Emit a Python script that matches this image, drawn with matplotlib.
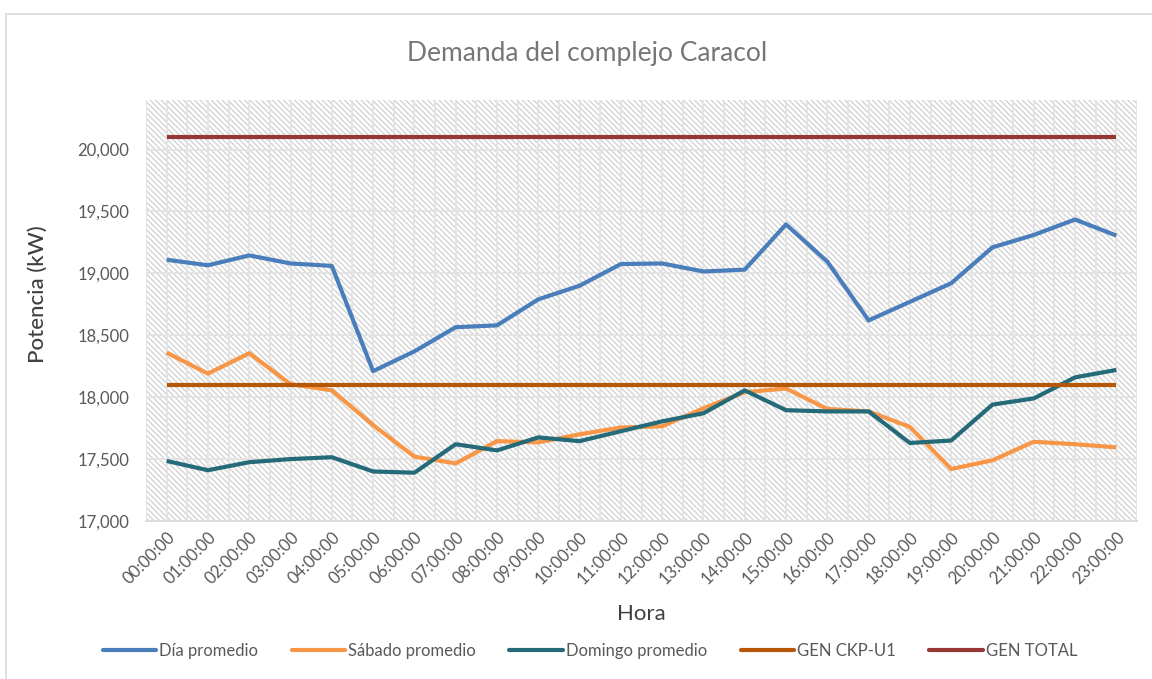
import matplotlib
matplotlib.use("Agg")
import matplotlib.pyplot as plt
from matplotlib.lines import Line2D
from matplotlib.patches import Rectangle

hours = [f"{h:02d}:00:00" for h in range(24)]

dia_promedio = [19110, 19065, 19145, 19080, 19060, 18210, 18370, 18565, 18580, 18790,
                18900, 19075, 19080, 19015, 19030, 19395, 19095, 18620, 18770, 18920,
                19210, 19310, 19435, 19305]
sabado_promedio = [18360, 18190, 18355, 18105, 18055, 17775, 17520, 17465, 17645, 17635,
                   17700, 17755, 17765, 17910, 18040, 18070, 17905, 17885, 17760, 17420,
                   17490, 17640, 17620, 17595]
domingo_promedio = [17485, 17410, 17475, 17500, 17515, 17400, 17390, 17620, 17570, 17675,
                    17645, 17725, 17805, 17870, 18055, 17895, 17885, 17885, 17630, 17650,
                    17940, 17990, 18160, 18220]
gen_ckp_u1 = [18100] * 24
gen_total = [20100] * 24

series = [
    ("Día promedio", dia_promedio, "#4A7EBB"),
    ("Sábado promedio", sabado_promedio, "#F79646"),
    ("Domingo promedio", domingo_promedio, "#256A78"),
    ("GEN CKP-U1", gen_ckp_u1, "#B65708"),
    ("GEN TOTAL", gen_total, "#953735"),
]

plt.rcParams['font.family'] = ['Lato', 'DejaVu Sans']
plt.rcParams['hatch.linewidth'] = 1.0
plt.rcParams['hatch.color'] = '#D4D4D4'

W, H = 1152, 679
fig = plt.figure(figsize=(W / 100, H / 100), dpi=100)

# chart border
fig.patches.append(Rectangle((6 / W, -5 / H), (1160 - 6) / W, (679 - 14 + 5) / H,
                             transform=fig.transFigure, fill=False,
                             edgecolor='#D9D9D9', linewidth=1.2))

left, right, top, bottom = 146, 1137, 100, 521
ax = fig.add_axes([left / W, 1 - bottom / H, (right - left) / W, (bottom - top) / H])
ax.set_facecolor('white')
ax.add_patch(Rectangle((0, 0), 1, 1, transform=ax.transAxes, facecolor='white',
                       hatch='\\\\\\\\\\\\', edgecolor='#D4D4D4', linewidth=0, zorder=0))

x = list(range(len(hours)))
for name, vals, col in series:
    ax.plot(x, vals, color=col, linewidth=3.0, solid_capstyle='butt', zorder=3, label=name)

ax.set_xlim(-0.5, 23.5)
ax.set_ylim(17000, 20400)
ax.set_yticks(range(17000, 20001, 500))
ax.set_yticklabels([f"{v:,}" for v in range(17000, 20001, 500)])
ax.set_xticks(x)
ax.set_xticklabels(hours, rotation=45, ha='right', rotation_mode='anchor')

for v in range(17500, 20001, 500):
    ax.axhline(v, color='#E3E3E3', linewidth=1.3, zorder=1)
for k in range(0, 48):
    ax.axvline(-0.5 + k * 0.5, color='#E3E3E3', linewidth=1.3, zorder=1)
ax.axvline(23.5, color='#E3E3E3', linewidth=1.3, zorder=1)

for s in ['top', 'right', 'left']:
    ax.spines[s].set_visible(False)
ax.spines['bottom'].set_color('#D9D9D9')
ax.spines['bottom'].set_linewidth(1.3)
ax.tick_params(axis='both', length=0, colors='#595959', labelsize=12)
ax.tick_params(axis='y', pad=12)
ax.tick_params(axis='x', pad=6)

ax.set_xlabel("Hora", fontsize=16, color='#404040', labelpad=12)
ax.set_ylabel("Potencia (kW)", fontsize=16, color='#404040', fontweight='medium')
ax.yaxis.set_label_coords(-0.099, 0.54)

fig.text(587 / W, 1 - 54 / H, "Demanda del complejo Caracol", ha='center', va='center',
         fontsize=19, color='#767676')

handles = [Line2D([0], [0], color=c, linewidth=3.0, solid_capstyle='round') for _, _, c in series]
labels = [n for n, _, _ in series]
fig.legend(handles, labels, loc='center', bbox_to_anchor=(590 / W, 1 - 651 / H), ncol=5,
           frameon=False, fontsize=12, labelcolor='#595959', handlelength=3.2,
           handletextpad=0.2, columnspacing=2.0)

fig.savefig("out.png", dpi=100)
